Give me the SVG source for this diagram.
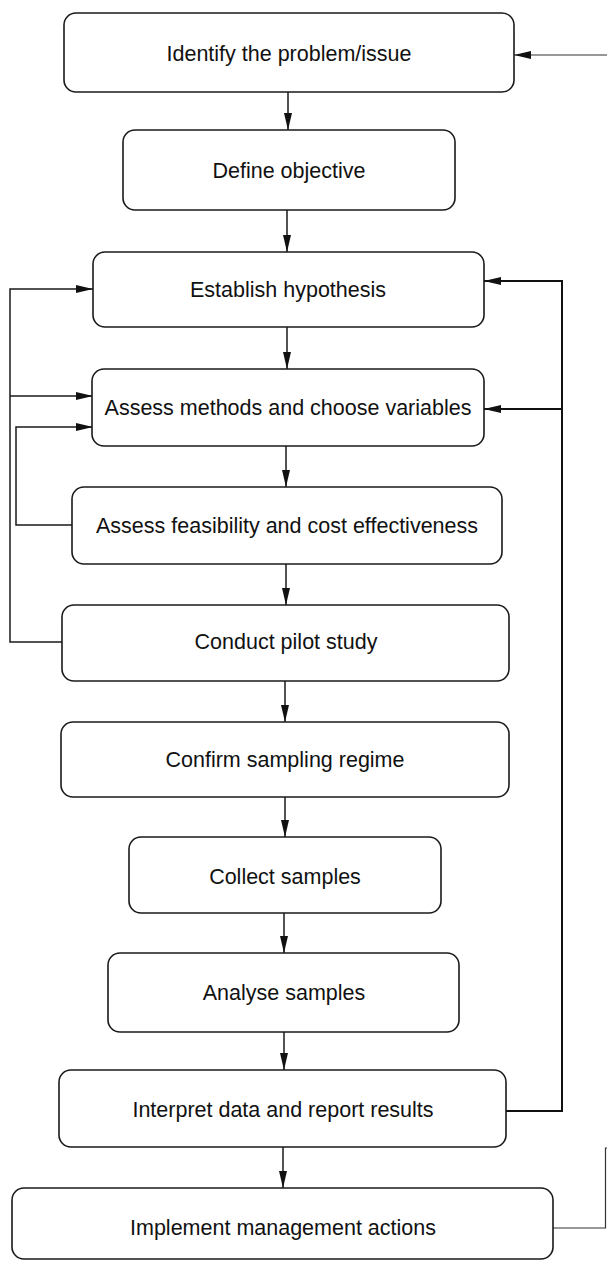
<svg xmlns="http://www.w3.org/2000/svg" width="607" height="1261" viewBox="0 0 607 1261">
<style>
.box{fill:#fff;stroke:#1a1a1a;stroke-width:1.6}
.lbl{font-family:"Liberation Sans",Arial,sans-serif;font-size:21.5px;fill:#111;text-anchor:middle}
.c{fill:none;stroke:#1a1a1a;stroke-width:1.5}
.cb{fill:none;stroke:#111;stroke-width:2}
.ct{fill:none;stroke:#333;stroke-width:1.2}
</style>
<defs>
<marker id="ah" markerUnits="userSpaceOnUse" markerWidth="17" markerHeight="8" refX="17" refY="4" orient="auto">
<path d="M0,0 L17,4 L0,8 z" fill="#111"/>
</marker>
</defs>
<rect width="607" height="1261" fill="#fff"/>
<g id="connectors">
<path class="c" d="M288,92 V130" marker-end="url(#ah)"/>
<path class="c" d="M287,210 V252" marker-end="url(#ah)"/>
<path class="c" d="M287,327 V369" marker-end="url(#ah)"/>
<path class="c" d="M286,446 V487" marker-end="url(#ah)"/>
<path class="c" d="M286,564 V605" marker-end="url(#ah)"/>
<path class="c" d="M285,681 V722" marker-end="url(#ah)"/>
<path class="c" d="M285,797 V837" marker-end="url(#ah)"/>
<path class="c" d="M284,913 V953" marker-end="url(#ah)"/>
<path class="c" d="M284,1032 V1070" marker-end="url(#ah)"/>
<path class="c" d="M283,1147 V1188" marker-end="url(#ah)"/>
<path class="c" d="M62,642 H10 V289 H93" marker-end="url(#ah)"/>
<path class="c" d="M10,396 H93" marker-end="url(#ah)"/>
<path class="c" d="M72,525 H16 V427 H93" marker-end="url(#ah)"/>
<path class="cb" d="M506,1111 H562 V281 H484" marker-end="url(#ah)"/>
<path class="cb" d="M562,409 H484" marker-end="url(#ah)"/>
<path class="ct" d="M553,1228 H605.5 V1148 H640 V55 H514" marker-end="url(#ah)"/>
</g>
<g id="n1"><rect class="box" x="64" y="13" width="450" height="79" rx="12"/><text class="lbl" x="289" y="61">Identify the problem/issue</text></g>
<g id="n2"><rect class="box" x="123" y="130" width="332" height="80" rx="12"/><text class="lbl" x="289" y="178">Define objective</text></g>
<g id="n3"><rect class="box" x="93" y="252" width="391" height="75" rx="12"/><text class="lbl" x="288" y="297">Establish hypothesis</text></g>
<g id="n4"><rect class="box" x="92" y="369" width="392" height="77" rx="12"/><text class="lbl" x="288" y="415">Assess methods and choose variables</text></g>
<g id="n5"><rect class="box" x="72" y="487" width="430" height="77" rx="12"/><text class="lbl" x="287" y="533">Assess feasibility and cost effectiveness</text></g>
<g id="n6"><rect class="box" x="62" y="605" width="447" height="76" rx="12"/><text class="lbl" x="286" y="649">Conduct pilot study</text></g>
<g id="n7"><rect class="box" x="61" y="722" width="448" height="75" rx="12"/><text class="lbl" x="285" y="767">Confirm sampling regime</text></g>
<g id="n8"><rect class="box" x="129" y="837" width="312" height="76" rx="12"/><text class="lbl" x="285" y="884">Collect samples</text></g>
<g id="n9"><rect class="box" x="108" y="953" width="351" height="79" rx="12"/><text class="lbl" x="284" y="1000">Analyse samples</text></g>
<g id="n10"><rect class="box" x="59" y="1070" width="447" height="77" rx="12"/><text class="lbl" x="283" y="1117">Interpret data and report results</text></g>
<g id="n11"><rect class="box" x="12" y="1188" width="541" height="71" rx="12"/><text class="lbl" x="283" y="1235">Implement management actions</text></g>
</svg>
